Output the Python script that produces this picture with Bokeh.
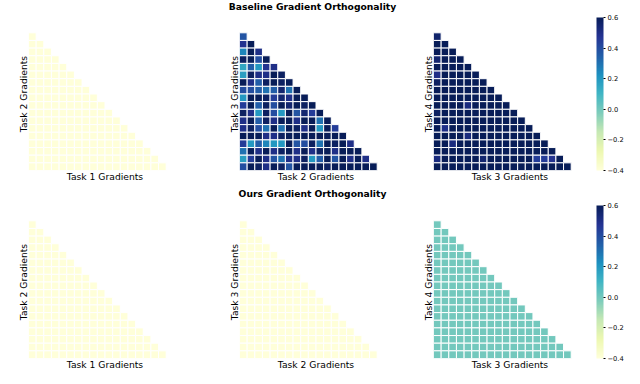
import numpy as np
from bokeh.plotting import figure
from bokeh.models import (ColumnDataSource, LinearColorMapper, ColorBar, FixedTicker,
                          CustomJSTickFormatter, Range1d, Label)
from bokeh.layouts import row, column
from bokeh.embed import file_html
from bokeh.resources import INLINE
from bokeh.core.validation import silence
from bokeh.core.validation.warnings import MISSING_RENDERERS

silence(MISSING_RENDERERS, True)

# ---------------- data ----------------
row_titles = ["Baseline Gradient Orthogonality", "Ours Gradient Orthogonality"]
x_labels = ["Task 1 Gradients", "Task 2 Gradients", "Task 3 Gradients"]
y_labels = ["Task 2 Gradients", "Task 3 Gradients", "Task 4 Gradients"]
cbar_ticks = [-0.4, -0.2, 0.0, 0.2, 0.4, 0.6]
cbar_labels = ["\u22120.4", "\u22120.2", "0.0", "0.2", "0.4", "0.6"]
vmin, vmax = -0.4, 0.6

base_t12 = [
    [-0.4],
    [-0.4, -0.4],
    [-0.4, -0.4, -0.4],
    [-0.4, -0.4, -0.4, -0.4],
    [-0.4, -0.4, -0.4, -0.4, -0.4],
    [-0.4, -0.4, -0.4, -0.4, -0.4, -0.4],
    [-0.4, -0.4, -0.4, -0.4, -0.4, -0.4, -0.4],
    [-0.4, -0.4, -0.4, -0.4, -0.4, -0.4, -0.4, -0.4],
    [-0.4, -0.4, -0.4, -0.4, -0.4, -0.4, -0.4, -0.4, -0.4],
    [-0.4, -0.4, -0.4, -0.4, -0.4, -0.4, -0.4, -0.4, -0.4, -0.4],
    [-0.4, -0.4, -0.4, -0.4, -0.4, -0.4, -0.4, -0.4, -0.4, -0.4, -0.4],
    [-0.4, -0.4, -0.4, -0.4, -0.4, -0.4, -0.4, -0.4, -0.4, -0.4, -0.4, -0.4],
    [-0.4, -0.4, -0.4, -0.4, -0.4, -0.4, -0.4, -0.4, -0.4, -0.4, -0.4, -0.4, -0.4],
    [-0.4, -0.4, -0.4, -0.4, -0.4, -0.4, -0.4, -0.4, -0.4, -0.4, -0.4, -0.4, -0.4, -0.4],
    [-0.4, -0.4, -0.4, -0.4, -0.4, -0.4, -0.4, -0.4, -0.4, -0.4, -0.4, -0.4, -0.4, -0.4, -0.4],
    [-0.4, -0.4, -0.4, -0.4, -0.4, -0.4, -0.4, -0.4, -0.4, -0.4, -0.4, -0.4, -0.4, -0.4, -0.4, -0.4],
    [-0.4, -0.4, -0.4, -0.4, -0.4, -0.4, -0.4, -0.4, -0.4, -0.4, -0.4, -0.4, -0.4, -0.4, -0.4, -0.4, -0.4],
    [-0.4, -0.4, -0.4, -0.4, -0.4, -0.4, -0.4, -0.4, -0.4, -0.4, -0.4, -0.4, -0.4, -0.4, -0.4, -0.4, -0.4, -0.4],
]

base_t23 = [
    [0.38],
    [0.48, 0.6],
    [0.25, 0.6, 0.5],
    [0.58, 0.6, 0.4, 0.6],
    [0.15, 0.35, 0.2, 0.48, 0.5],
    [0.18, 0.58, 0.5, 0.5, 0.6, 0.58],
    [0.6, 0.5, 0.35, 0.58, 0.6, 0.58, 0.6],
    [0.4, 0.4, 0.35, 0.3, 0.35, 0.55, 0.3, 0.6],
    [0.2, 0.6, 0.6, 0.58, 0.45, 0.55, 0.5, 0.6, 0.6],
    [0.45, 0.6, 0.35, 0.58, 0.4, 0.6, 0.55, 0.6, 0.58, 0.6],
    [0.58, 0.5, 0.2, 0.58, 0.4, 0.2, 0.6, 0.38, 0.55, 0.45, 0.6],
    [0.5, 0.6, 0.35, 0.58, 0.5, 0.6, 0.6, 0.5, 0.6, 0.6, 0.3, 0.6],
    [0.5, 0.58, 0.4, 0.3, 0.6, 0.3, 0.6, 0.58, 0.5, 0.6, 0.2, 0.6, 0.45],
    [0.6, 0.6, 0.6, 0.5, 0.5, 0.58, 0.6, 0.6, 0.6, 0.6, 0.6, 0.6, 0.6, 0.6],
    [0.45, 0.2, 0.35, 0.25, 0.2, 0.2, 0.6, 0.38, 0.4, 0.58, 0.3, 0.6, 0.58, 0.6, 0.5],
    [0.3, 0.6, 0.5, 0.6, 0.5, 0.58, 0.6, 0.5, 0.6, 0.5, 0.58, 0.6, 0.5, 0.6, 0.6, 0.6],
    [0.18, 0.45, 0.6, 0.5, 0.38, 0.3, 0.5, 0.5, 0.58, 0.2, 0.35, 0.6, 0.38, 0.6, 0.5, 0.6, 0.5],
    [0.4, 0.6, 0.58, 0.5, 0.6, 0.58, 0.38, 0.6, 0.6, 0.6, 0.6, 0.58, 0.6, 0.6, 0.6, 0.6, 0.6, 0.6],
]

base_t34 = [
    [0.56],
    [0.6, 0.6],
    [0.6, 0.6, 0.6],
    [0.55, 0.6, 0.6, 0.6],
    [0.6, 0.6, 0.6, 0.6, 0.6],
    [0.5, 0.6, 0.6, 0.6, 0.6, 0.6],
    [0.58, 0.6, 0.6, 0.6, 0.6, 0.6, 0.6],
    [0.6, 0.6, 0.6, 0.6, 0.6, 0.6, 0.6, 0.6],
    [0.6, 0.6, 0.6, 0.6, 0.6, 0.6, 0.6, 0.6, 0.6],
    [0.6, 0.6, 0.6, 0.6, 0.52, 0.6, 0.6, 0.6, 0.6, 0.6],
    [0.58, 0.6, 0.6, 0.6, 0.6, 0.6, 0.6, 0.6, 0.6, 0.6, 0.6],
    [0.6, 0.6, 0.6, 0.6, 0.6, 0.6, 0.6, 0.6, 0.6, 0.6, 0.6, 0.6],
    [0.6, 0.5, 0.6, 0.6, 0.6, 0.6, 0.6, 0.6, 0.6, 0.6, 0.6, 0.6, 0.6],
    [0.6, 0.6, 0.6, 0.6, 0.52, 0.6, 0.6, 0.6, 0.6, 0.6, 0.6, 0.6, 0.6, 0.6],
    [0.6, 0.6, 0.52, 0.6, 0.6, 0.6, 0.6, 0.6, 0.6, 0.6, 0.6, 0.6, 0.6, 0.6, 0.6],
    [0.6, 0.6, 0.6, 0.6, 0.6, 0.6, 0.6, 0.6, 0.6, 0.6, 0.6, 0.6, 0.6, 0.6, 0.6, 0.6],
    [0.52, 0.6, 0.6, 0.6, 0.6, 0.6, 0.55, 0.6, 0.6, 0.6, 0.6, 0.6, 0.6, 0.45, 0.45, 0.48, 0.6],
    [0.6, 0.6, 0.6, 0.6, 0.6, 0.6, 0.6, 0.6, 0.6, 0.6, 0.6, 0.6, 0.6, 0.6, 0.6, 0.6, 0.6, 0.6],
]

ours_t12 = [
    [-0.4],
    [-0.4, -0.4],
    [-0.4, -0.4, -0.4],
    [-0.4, -0.4, -0.4, -0.4],
    [-0.4, -0.4, -0.4, -0.4, -0.4],
    [-0.4, -0.4, -0.4, -0.4, -0.4, -0.4],
    [-0.4, -0.4, -0.4, -0.4, -0.4, -0.4, -0.4],
    [-0.4, -0.4, -0.4, -0.4, -0.4, -0.4, -0.4, -0.4],
    [-0.4, -0.4, -0.4, -0.4, -0.4, -0.4, -0.4, -0.4, -0.4],
    [-0.4, -0.4, -0.4, -0.4, -0.4, -0.4, -0.4, -0.4, -0.4, -0.4],
    [-0.4, -0.4, -0.4, -0.4, -0.4, -0.4, -0.4, -0.4, -0.4, -0.4, -0.4],
    [-0.4, -0.4, -0.4, -0.4, -0.4, -0.4, -0.4, -0.4, -0.4, -0.4, -0.4, -0.4],
    [-0.4, -0.4, -0.4, -0.4, -0.4, -0.4, -0.4, -0.4, -0.4, -0.4, -0.4, -0.4, -0.4],
    [-0.4, -0.4, -0.4, -0.4, -0.4, -0.4, -0.4, -0.4, -0.4, -0.4, -0.4, -0.4, -0.4, -0.4],
    [-0.4, -0.4, -0.4, -0.4, -0.4, -0.4, -0.4, -0.4, -0.4, -0.4, -0.4, -0.4, -0.4, -0.4, -0.4],
    [-0.4, -0.4, -0.4, -0.4, -0.4, -0.4, -0.4, -0.4, -0.4, -0.4, -0.4, -0.4, -0.4, -0.4, -0.4, -0.4],
    [-0.4, -0.4, -0.4, -0.4, -0.4, -0.4, -0.4, -0.4, -0.4, -0.4, -0.4, -0.4, -0.4, -0.4, -0.4, -0.4, -0.4],
    [-0.4, -0.4, -0.4, -0.4, -0.4, -0.4, -0.4, -0.4, -0.4, -0.4, -0.4, -0.4, -0.4, -0.4, -0.4, -0.4, -0.4, -0.4],
]

ours_t23 = [
    [-0.4],
    [-0.4, -0.4],
    [-0.4, -0.4, -0.4],
    [-0.4, -0.4, -0.4, -0.4],
    [-0.4, -0.4, -0.4, -0.4, -0.4],
    [-0.4, -0.4, -0.4, -0.4, -0.4, -0.4],
    [-0.4, -0.4, -0.4, -0.4, -0.4, -0.4, -0.4],
    [-0.4, -0.4, -0.4, -0.4, -0.4, -0.4, -0.4, -0.4],
    [-0.4, -0.4, -0.4, -0.4, -0.4, -0.4, -0.4, -0.4, -0.4],
    [-0.4, -0.4, -0.4, -0.4, -0.4, -0.4, -0.4, -0.4, -0.4, -0.4],
    [-0.4, -0.4, -0.4, -0.4, -0.4, -0.4, -0.4, -0.4, -0.4, -0.4, -0.4],
    [-0.4, -0.4, -0.4, -0.4, -0.4, -0.4, -0.4, -0.4, -0.4, -0.4, -0.4, -0.4],
    [-0.4, -0.4, -0.4, -0.4, -0.4, -0.4, -0.4, -0.4, -0.4, -0.4, -0.4, -0.4, -0.4],
    [-0.4, -0.4, -0.4, -0.4, -0.4, -0.4, -0.4, -0.4, -0.4, -0.4, -0.4, -0.4, -0.4, -0.4],
    [-0.4, -0.4, -0.4, -0.4, -0.4, -0.4, -0.4, -0.4, -0.4, -0.4, -0.4, -0.4, -0.4, -0.4, -0.4],
    [-0.4, -0.4, -0.4, -0.4, -0.4, -0.4, -0.4, -0.4, -0.4, -0.4, -0.4, -0.4, -0.4, -0.4, -0.4, -0.4],
    [-0.4, -0.4, -0.4, -0.4, -0.4, -0.4, -0.4, -0.4, -0.4, -0.4, -0.4, -0.4, -0.4, -0.4, -0.4, -0.4, -0.4],
    [-0.4, -0.4, -0.4, -0.4, -0.4, -0.4, -0.4, -0.4, -0.4, -0.4, -0.4, -0.4, -0.4, -0.4, -0.4, -0.4, -0.4, -0.4],
]

ours_t34 = [
    [0.0],
    [0.0, 0.0],
    [0.0, 0.0, 0.0],
    [0.0, 0.0, 0.0, 0.0],
    [0.0, 0.0, 0.0, 0.0, 0.0],
    [0.0, 0.0, 0.0, 0.0, 0.0, 0.0],
    [0.0, 0.0, 0.0, 0.0, 0.0, 0.0, 0.0],
    [0.0, 0.0, 0.0, 0.0, 0.0, 0.0, 0.0, 0.0],
    [0.0, 0.0, 0.0, 0.0, 0.0, 0.0, 0.0, 0.0, 0.0],
    [0.0, 0.0, 0.0, 0.0, 0.0, 0.0, 0.0, 0.0, 0.0, 0.0],
    [0.0, 0.0, 0.0, 0.0, 0.0, 0.0, 0.0, 0.0, 0.0, 0.0, 0.0],
    [0.0, 0.0, 0.0, 0.0, 0.0, 0.0, 0.0, 0.0, 0.0, 0.0, 0.0, 0.0],
    [0.0, 0.0, 0.0, 0.0, 0.0, 0.0, 0.0, 0.0, 0.0, 0.0, 0.0, 0.0, 0.0],
    [0.0, 0.0, 0.0, 0.0, 0.0, 0.0, 0.0, 0.0, 0.0, 0.0, 0.0, 0.0, 0.0, 0.0],
    [0.0, 0.0, 0.0, 0.0, 0.0, 0.0, 0.0, 0.0, 0.0, 0.0, 0.0, 0.0, 0.0, 0.0, 0.0],
    [0.0, 0.0, 0.0, 0.0, 0.0, 0.0, 0.0, 0.0, 0.0, 0.0, 0.0, 0.0, 0.0, 0.0, 0.0, 0.0],
    [0.0, 0.0, 0.0, 0.0, 0.0, 0.0, 0.0, 0.0, 0.0, 0.0, 0.0, 0.0, 0.0, 0.0, 0.0, 0.0, 0.0],
    [0.0, 0.0, 0.0, 0.0, 0.0, 0.0, 0.0, 0.0, 0.0, 0.0, 0.0, 0.0, 0.0, 0.0, 0.0, 0.0, 0.0, 0.0],
]

# ---------------- styling ----------------
FONT = "DejaVu Sans"
anchors = ["#ffffd9", "#edf8b1", "#c7e9b4", "#7fcdbb", "#41b6c4",
           "#1d91c0", "#225ea8", "#253494", "#081d58"]


def build_palette(cols, n=256):
    rgb = np.array([[int(c[i:i + 2], 16) for i in (1, 3, 5)] for c in cols], dtype=float)
    pos = np.linspace(0, 1, len(cols))
    t = np.linspace(0, 1, n)
    out = []
    for tt in t:
        r = np.interp(tt, pos, rgb[:, 0])
        g = np.interp(tt, pos, rgb[:, 1])
        b = np.interp(tt, pos, rgb[:, 2])
        out.append("#%02x%02x%02x" % (int(round(r)), int(round(g)), int(round(b))))
    return out


palette = build_palette(anchors)
mapper = LinearColorMapper(palette=palette, low=vmin, high=vmax)

FRAME = 153


def heat(rows, xlabel, ylabel, left, right, top, bottom):
    xs, ys, vs = [], [], []
    for i, r in enumerate(rows):
        for j, v in enumerate(r):
            xs.append(j)
            ys.append(i)
            vs.append(v)
    n = len(rows)
    src = ColumnDataSource(dict(x=xs, y=ys, v=vs))
    p = figure(frame_width=FRAME, frame_height=FRAME,
               x_range=Range1d(-0.5, n + 1.5), y_range=Range1d(n - 0.5, -2.5),
               output_backend="svg", toolbar_location=None,
               min_border_left=left, min_border_right=right,
               min_border_top=top, min_border_bottom=bottom)
    p.rect(x="x", y="y", width=1, height=1, source=src,
           fill_color={"field": "v", "transform": mapper},
           line_color="white", line_width=1)
    p.outline_line_color = None
    p.grid.visible = False
    for ax, lab in ((p.xaxis, xlabel), (p.yaxis, ylabel)):
        ax.ticker = []
        ax.axis_label = lab
        ax.axis_label_text_font = FONT
        ax.axis_label_text_font_size = "9.2px"
        ax.axis_label_text_font_style = "normal"
        ax.axis_label_text_color = "black"
        ax.axis_label_standoff = 0
        ax.major_label_standoff = 0
        ax.axis_line_color = None
        ax.major_tick_line_color = None
        ax.minor_tick_line_color = None
        ax.major_tick_out = 0
        ax.major_tick_in = 0
    return p


def cbar_fig(top, bottom):
    p = figure(frame_width=44, frame_height=FRAME, min_border_left=0, min_border_right=0,
               min_border_top=top, min_border_bottom=bottom,
               x_axis_type=None, y_axis_type=None,
               toolbar_location=None, output_backend="svg")
    p.outline_line_color = None
    fmt = CustomJSTickFormatter(args=dict(tvals=cbar_ticks, tlabels=cbar_labels), code="""
        let k = 0, best = 1e9;
        for (let i = 0; i < tvals.length; i++) {
            const d = Math.abs(tvals[i] - tick);
            if (d < best) { best = d; k = i; }
        }
        return tlabels[k];
    """)
    cb = ColorBar(color_mapper=mapper, location="top_left", width=7, height=FRAME,
                  padding=0, margin=0, ticker=FixedTicker(ticks=cbar_ticks), formatter=fmt,
                  major_label_text_font=FONT, major_label_text_font_size="6.7px",
                  major_label_text_color="black",
                  major_tick_in=0, major_tick_out=2, major_tick_line_color="black",
                  minor_tick_line_color=None, label_standoff=2,
                  bar_line_color=None, border_line_color=None, background_fill_color=None)
    p.add_layout(cb)
    return p


def title_fig(text, h, ymid):
    p = figure(width=640, height=h, x_range=Range1d(0, 640), y_range=Range1d(0, h),
               toolbar_location=None, output_backend="svg", min_border=0,
               x_axis_type=None, y_axis_type=None)
    p.outline_line_color = None
    p.add_layout(Label(x=312, y=ymid, text=text, text_align="center", text_baseline="middle",
                       text_font=FONT, text_font_style="bold", text_font_size="9.2px",
                       text_color="black"))
    return p


def panel_row(data, top, bottom):
    a = heat(data[0], x_labels[0], y_labels[0], 28, 4, top, bottom)
    b = heat(data[1], x_labels[1], y_labels[1], 54, 4, top, bottom)
    c = heat(data[2], x_labels[2], y_labels[2], 37, 10, top, bottom)
    return row(a, b, c, cbar_fig(top, bottom))


layout = column(
    title_fig(row_titles[0], 14, 8),
    panel_row([base_t12, base_t23, base_t34], 3, 16),
    title_fig(row_titles[1], 14, 7),
    panel_row([ours_t12, ours_t23, ours_t34], 5, 26),
)

open("out.html", "w").write(file_html(layout, INLINE))
